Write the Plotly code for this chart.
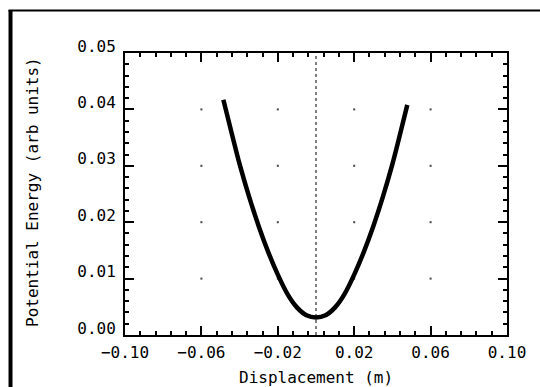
import plotly.graph_objects as go

# Potential energy curve sampled along the displacement axis
displacement = [-0.0485, -0.044, -0.040, -0.035, -0.030, -0.025, -0.020, -0.015, -0.010, -0.005,
                0.000, 0.005, 0.010, 0.015, 0.020, 0.025, 0.030, 0.035, 0.040, 0.044, 0.0478]
energy = [0.0417, 0.0356, 0.0303, 0.0245, 0.0193, 0.0147, 0.0107, 0.0073, 0.0049, 0.0035,
          0.0031, 0.0035, 0.0049, 0.0073, 0.0107, 0.0147, 0.0193, 0.0245, 0.0303, 0.0356, 0.0408]

# Axis tick positions
x_ticks = [-0.10, -0.06, -0.02, 0.02, 0.06, 0.10]
y_ticks = [0.00, 0.01, 0.02, 0.03, 0.04, 0.05]
x_tick_text = ["\u22120.10", "\u22120.06", "\u22120.02", "0.02", "0.06", "0.10"]
y_tick_text = ["0.00", "0.01", "0.02", "0.03", "0.04", "0.05"]

# Dotted grid: one dot at every interior major-tick intersection
grid_x = [x for x in x_ticks[1:-1] for _ in y_ticks[1:-1]]
grid_y = [y for _ in x_ticks[1:-1] for y in y_ticks[1:-1]]

FONT = "DejaVu Sans Mono"

fig = go.Figure()
fig.add_trace(go.Scatter(x=grid_x, y=grid_y, mode="markers",
                         marker=dict(symbol="square", size=2, color="#444"),
                         hoverinfo="skip", showlegend=False))
fig.add_trace(go.Scatter(x=displacement, y=energy, mode="lines",
                         line=dict(color="black", width=4.5, shape="spline", smoothing=1.0),
                         showlegend=False))

# Equilibrium marker at zero displacement
fig.add_shape(type="line", x0=0, x1=0, y0=0, y1=0.05, xref="x", yref="y",
              line=dict(color="black", width=1, dash="dot"), layer="below")

# Outer window frame (left and top edges)
fig.add_shape(type="line", xref="paper", yref="paper", x0=-0.2997, x1=-0.2997, y0=1.1525, y1=-0.3,
              line=dict(color="black", width=4))
fig.add_shape(type="line", xref="paper", yref="paper", x0=-0.305, x1=1.2, y0=1.1508, y1=1.1508,
              line=dict(color="black", width=2))

axis_common = dict(showgrid=False, zeroline=False, showline=True, linecolor="black", linewidth=2,
                   mirror="allticks", ticks="inside", ticklen=9, tickwidth=1.5, tickcolor="black",
                   tickfont=dict(family=FONT, size=16, color="black"))

fig.update_xaxes(range=[-0.10, 0.10], tickvals=x_ticks, ticktext=x_tick_text,
                 minor=dict(dtick=0.008, tick0=-0.10, ticks="inside", ticklen=4, tickwidth=1.5,
                            tickcolor="black"),
                 ticklabelstandoff=2,
                 **axis_common)
fig.update_yaxes(range=[0.0, 0.05], tickvals=y_ticks, ticktext=y_tick_text,
                 minor=dict(dtick=0.002, tick0=0, ticks="inside", ticklen=4, tickwidth=1.5,
                            tickcolor="black"),
                 ticklabelstandoff=4, ticklabelshift=-7,
                 **axis_common)

fig.add_annotation(text="Displacement (m)", xref="paper", yref="paper", x=0.5, y=0,
                   xanchor="center", yanchor="middle", yshift=-42, showarrow=False,
                   font=dict(family=FONT, size=16, color="black"))
fig.add_annotation(text="Potential Energy (arb units)", xref="paper", yref="paper", x=0, y=0.5,
                   xanchor="center", yanchor="middle", xshift=-93, yshift=2, textangle=-90,
                   showarrow=False, font=dict(family=FONT, size=16, color="black"))

fig.update_layout(width=540, height=387, margin=dict(l=125, r=33, t=53, b=52),
                  paper_bgcolor="white", plot_bgcolor="white", showlegend=False)

fig.write_html("out.html")
